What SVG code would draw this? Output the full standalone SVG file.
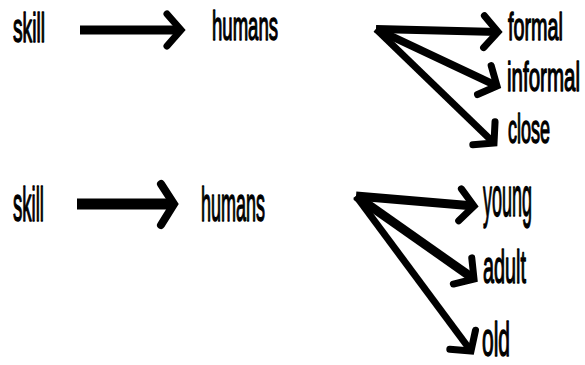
<svg xmlns="http://www.w3.org/2000/svg" width="585" height="365" viewBox="0 0 585 365">
<style>
.t{font-family:"Liberation Sans",Arial,sans-serif;font-weight:normal;fill:#000;stroke:#000;stroke-width:1.4;stroke-linejoin:round}
.c{stroke:#000;fill:none;stroke-linecap:butt}
</style>
<defs>
<marker id="h" markerUnits="userSpaceOnUse" orient="auto" refX="0" refY="0" markerWidth="40" markerHeight="40" viewBox="-30 -20 40 40" overflow="visible">
<path d="M-14,-16 L0,0 L-14,16" fill="none" stroke="#000" stroke-width="7" stroke-linecap="round" stroke-linejoin="miter"/>
</marker>
<marker id="h2" markerUnits="userSpaceOnUse" orient="auto" refX="0" refY="0" markerWidth="40" markerHeight="40" viewBox="-30 -20 40 40" overflow="visible">
<path d="M-13,-20 L0,0 L-13,21" fill="none" stroke="#000" stroke-width="8" stroke-linecap="round" stroke-linejoin="miter"/>
</marker>
</defs>
<g id="connectors">
<line class="c" x1="80" y1="30" x2="181" y2="30" stroke-width="9" marker-end="url(#h)"/>
<line class="c" x1="77" y1="204" x2="174" y2="204" stroke-width="11" marker-end="url(#h2)"/>
<line class="c" x1="376" y1="29" x2="498" y2="32" stroke-width="8" marker-end="url(#h)"/>
<line class="c" x1="376" y1="29" x2="497" y2="86" stroke-width="8" marker-end="url(#h)"/>
<line class="c" x1="376" y1="29" x2="494" y2="143" stroke-width="7" marker-end="url(#h)"/>
<line class="c" x1="356" y1="196" x2="474" y2="206" stroke-width="9" marker-end="url(#h)"/>
<line class="c" x1="356" y1="196" x2="474" y2="279" stroke-width="9" marker-end="url(#h)"/>
<line class="c" x1="356" y1="196" x2="471" y2="351" stroke-width="7" marker-end="url(#h)"/>
</g>
<g id="skill1"><text class="t" x="13" y="42" font-size="40" textLength="32" lengthAdjust="spacingAndGlyphs">skill</text></g>
<g id="humans1"><text class="t" x="212" y="40" font-size="40" textLength="66" lengthAdjust="spacingAndGlyphs">humans</text></g>
<g id="formal"><text class="t" x="508" y="40" font-size="39" textLength="55" lengthAdjust="spacingAndGlyphs">formal</text></g>
<g id="informal"><text class="t" x="507" y="91" font-size="40" textLength="73" lengthAdjust="spacingAndGlyphs">informal</text></g>
<g id="close"><text class="t" x="508" y="143" font-size="40" textLength="42" lengthAdjust="spacingAndGlyphs">close</text></g>
<g id="skill2"><text class="t" x="13" y="221" font-size="48" textLength="31" lengthAdjust="spacingAndGlyphs">skill</text></g>
<g id="humans2"><text class="t" x="201" y="221" font-size="48" textLength="64" lengthAdjust="spacingAndGlyphs">humans</text></g>
<g id="young"><text class="t" x="483" y="216" font-size="56" textLength="49" lengthAdjust="spacingAndGlyphs">young</text></g>
<g id="adult"><text class="t" x="483" y="283" font-size="47" textLength="43" lengthAdjust="spacingAndGlyphs">adult</text></g>
<g id="old"><text class="t" x="482" y="356" font-size="48" textLength="28" lengthAdjust="spacingAndGlyphs">old</text></g>
</svg>
